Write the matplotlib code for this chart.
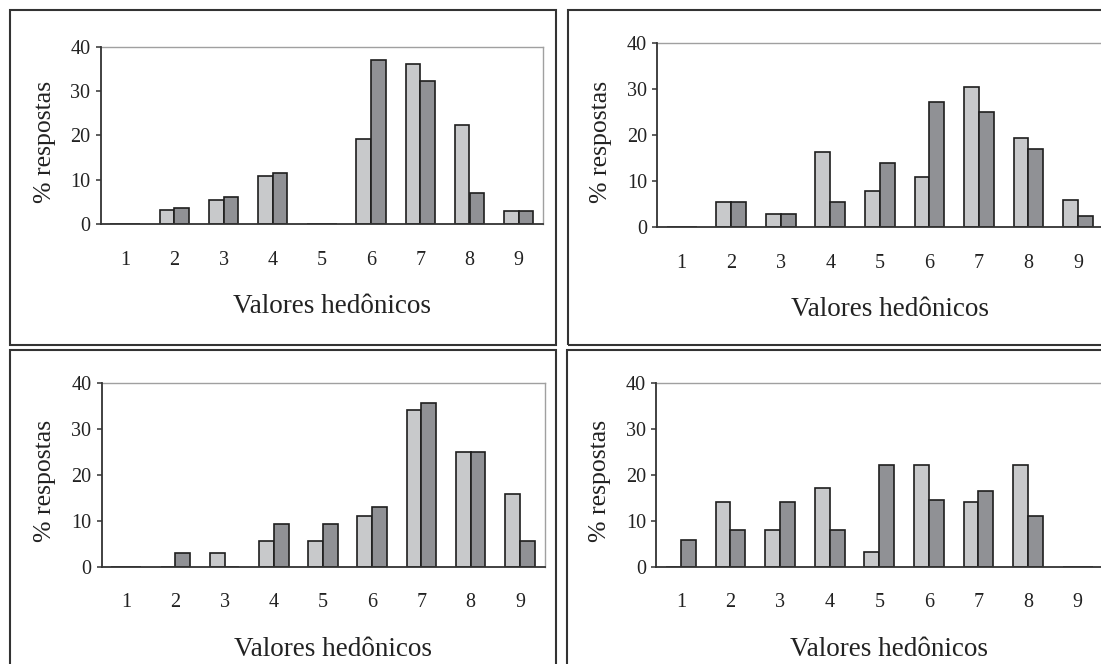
import matplotlib
matplotlib.use("Agg")
import matplotlib.pyplot as plt
from matplotlib.patches import Rectangle
import numpy as np

# ---- data ----
categories = [1, 2, 3, 4, 5, 6, 7, 8, 9]
tick_labels = ["1", "2", "3", "4", "5", "6", "7", "8", "9"]
y_ticks = [0, 10, 20, 30, 40]

tl_light = [0, 3.2, 5.5, 10.9, 0, 19.1, 36.1, 22.4, 3.1]
tl_dark = [0, 3.7, 6.1, 11.5, 0, 36.9, 32.2, 7.1, 3.1]

tr_light = [0, 5.6, 3.0, 16.5, 8.0, 10.9, 30.6, 19.5, 5.9]
tr_dark = [0, 5.6, 3.0, 5.6, 14.1, 27.3, 25.0, 17.1, 2.4]

bl_light = [0, 0, 2.9, 5.6, 5.6, 10.9, 34.1, 24.9, 15.9]
bl_dark = [0, 2.9, 0, 9.2, 9.2, 13.0, 35.7, 24.9, 5.6]

br_light = [0, 14.1, 8.0, 17.2, 3.1, 22.1, 14.1, 22.1, 0]
br_dark = [5.9, 8.0, 14.1, 8.0, 22.1, 14.5, 16.5, 11.0, 0]

xlabel_text = "Valores hedônicos"
ylabel_text = "% respostas"

# ---- style ----
W, H = 1101, 664
FONT = ["Liberation Serif", "DejaVu Serif"]
plt.rcParams["font.family"] = FONT
TEXT_C = "#222222"
LIGHT = "#c8c9cb"
DARK = "#909195"
EDGE = "#1e1e1e"

fig = plt.figure(figsize=(W / 100, H / 100), dpi=100)


def rect(l, r, t, b):
    return [l / W, 1 - b / H, (r - l) / W, (b - t) / H]


panels = [
    (rect(100.5, 543.3, 46.7, 224.3), tl_light, tl_dark),
    (rect(657.0, 1102.7, 43.3, 227.5), tr_light, tr_dark),
    (rect(101.5, 544.5, 383.0, 566.5), bl_light, bl_dark),
    (rect(656.0, 1102.5, 382.7, 566.7), br_light, br_dark),
]

x = np.array(categories, dtype=float)
bw = 0.3
for pos, light, dark in panels:
    ax = fig.add_axes(pos)
    ax.bar(x - bw / 2, light, width=bw, color=LIGHT, edgecolor=EDGE,
           linewidth=1.2, zorder=3)
    ax.bar(x + bw / 2, dark, width=bw, color=DARK, edgecolor=EDGE,
           linewidth=1.2, zorder=3)
    ax.set_xlim(0.5, 9.5)
    ax.set_ylim(0, 40)
    ax.set_xticks(categories)
    ax.set_xticklabels(tick_labels)
    ax.set_yticks(y_ticks)
    ax.tick_params(axis="x", length=0, pad=19, labelsize=14.5,
                   labelcolor=TEXT_C)
    ax.tick_params(axis="y", length=3.3, width=1.1, direction="out",
                   color="#333333", pad=4.0, labelsize=14.5,
                   labelcolor=TEXT_C)
    for s in ("left", "bottom"):
        ax.spines[s].set_color("#333333")
        ax.spines[s].set_linewidth(1.3)
        ax.spines[s].set_zorder(4)
    for s in ("top", "right"):
        ax.spines[s].set_color("#a0a0a0")
        ax.spines[s].set_linewidth(1.0)

    wpx = pos[2] * W
    hpx = pos[3] * H
    ax.set_xlabel(xlabel_text, fontsize=19.5, color=TEXT_C)
    ax.xaxis.label.set_va("baseline")
    ax.xaxis.set_label_coords(0.522, -89.0 / hpx)
    ax.set_ylabel(ylabel_text, fontsize=18.5, color=TEXT_C)
    ax.yaxis.label.set_va("baseline")
    ax.yaxis.set_label_coords(-50.0 / wpx, 0.465)

# panel frames
boxes = [(10, 556, 10, 345), (568, 1115, 10, 345),
         (10, 556, 350, 680), (567, 1115, 350, 680)]
for l, r, t, b in boxes:
    fig.add_artist(Rectangle((l / W, 1 - b / H), (r - l) / W, (b - t) / H,
                             transform=fig.transFigure, fill=False,
                             edgecolor="#333333", linewidth=1.5))

fig.savefig("out.png", dpi=100, facecolor="white")
